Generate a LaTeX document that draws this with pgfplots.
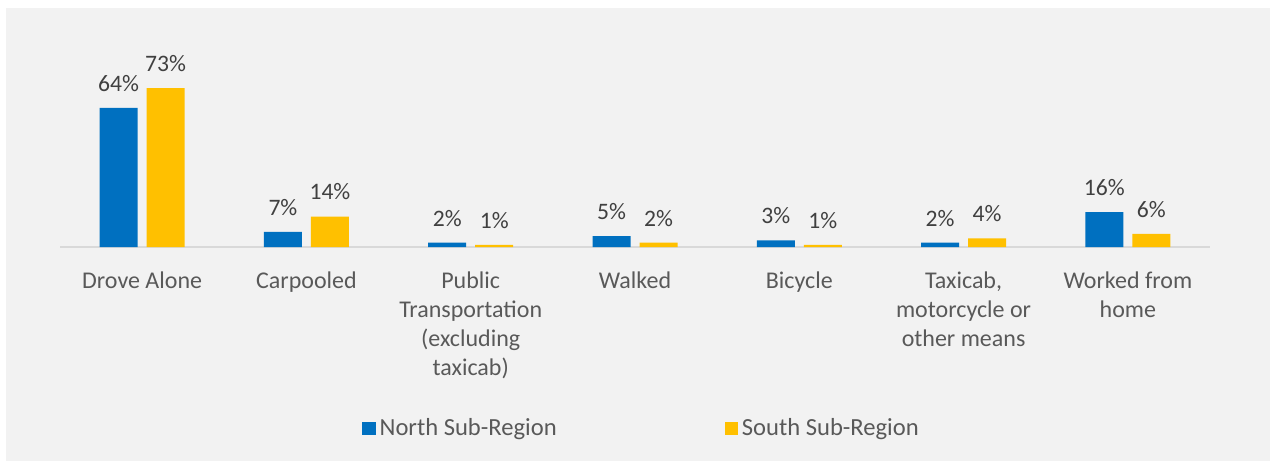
\documentclass[border=0pt]{standalone}
\usepackage{fontspec}
\setmainfont{Carlito}
\usepackage{pgfplots}
\pgfplotsset{compat=1.18}
\definecolor{bgc}{HTML}{F2F2F2}
\definecolor{northc}{HTML}{0070C0}
\definecolor{southc}{HTML}{FFC000}
\definecolor{axc}{HTML}{D9D9D9}
\definecolor{lblc}{HTML}{595959}
\definecolor{datc}{HTML}{404040}
\begin{document}
\fontsize{12pt}{14.5pt}\selectfont
\begin{tikzpicture}
\path[fill=white] (0,0) rectangle (635pt,230.5pt);
\fill[bgc] (3pt,0) rectangle (635pt,226.5pt);
\begin{axis}[
  at={(30pt,107pt)}, anchor=south west,
  scale only axis, width=575pt, height=87pt,
  xmin=-0.5, xmax=6.5, ymin=0, ymax=80,
  clip=false,
  ybar=4.5pt, bar width=19pt,
  axis x line*=bottom, axis y line=none,
  x axis line style={axc, line width=0.75pt, -},
  xtick={0,...,6},
  xticklabels={Drove Alone, Carpooled, {Public\\Transportation\\(excluding\\taxicab)}, Walked, Bicycle, {Taxicab,\\motorcycle or\\other means}, {Worked from\\home}},
  major tick length=0pt,
  ytick=\empty,
  xticklabel style={align=center, text=lblc, yshift=-8pt},
  nodes near coords={\pgfmathprintnumber[assume math mode=true]{\pgfplotspointmeta}\%},
  every node near coord/.append style={text=datc, yshift=4pt, font=\fontsize{11.8pt}{14pt}\selectfont},
  legend style={at={(0.2574,-1.0435)}, anchor=west, draw=none, fill=none,
    legend columns=2, text=lblc, font=\fontsize{12.3pt}{14pt}\selectfont,
    /tikz/every odd column/.append style={column sep=0pt},
    /tikz/column 2/.style={column sep=82pt}},
  legend image code/.code={\fill[#1] (0pt,-3.3pt) rectangle (6.6pt,3.3pt);},
]
\addplot[fill=northc, draw=none] coordinates {(0,64) (1,7) (2,2) (3,5) (4,3) (5,2) (6,16)};
\addplot[fill=southc, draw=none] coordinates {(0,73) (1,14) (2,1) (3,2) (4,1) (5,4) (6,6)};
\legend{North Sub-Region, South Sub-Region}
\end{axis}
\end{tikzpicture}
\end{document}
